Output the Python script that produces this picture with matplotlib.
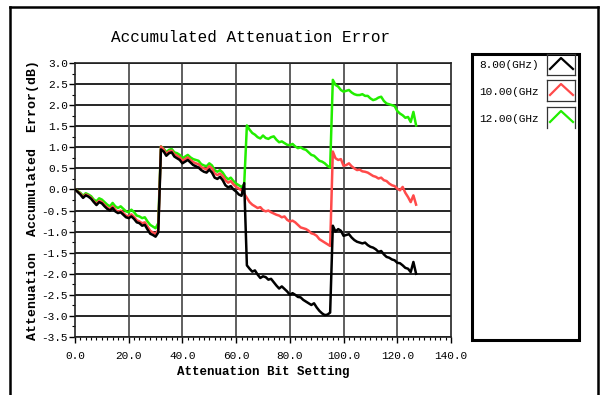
import numpy as np
import matplotlib
matplotlib.use("Agg")
import matplotlib.pyplot as plt
from matplotlib.lines import Line2D
from matplotlib.patches import Rectangle
from matplotlib.ticker import MultipleLocator, FormatStrFormatter

plt.rcParams['axes.unicode_minus'] = False
plt.rcParams['font.family'] = ['Liberation Mono', 'DejaVu Sans Mono']

# attenuation bit setting 0..127
setting = np.arange(128)

# accumulated error (dB), one value per setting
err_8ghz = [
    0.00, -0.06, -0.12, -0.20, -0.14, -0.17, -0.22, -0.30, -0.37, -0.30, -0.33, -0.40, -0.46, -0.50, -0.44, -0.52,
    -0.56, -0.54, -0.60, -0.66, -0.68, -0.64, -0.70, -0.78, -0.80, -0.86, -0.84, -0.95, -1.05, -1.08, -1.12, -1.02,
    0.95, 0.90, 0.80, 0.86, 0.88, 0.78, 0.74, 0.70, 0.62, 0.66, 0.70, 0.64, 0.58, 0.55, 0.52, 0.46,
    0.42, 0.40, 0.47, 0.40, 0.28, 0.25, 0.30, 0.22, 0.10, 0.05, 0.08, 0.00, -0.05, -0.12, -0.15, 0.15,
    -1.80, -1.88, -1.95, -1.92, -2.02, -2.10, -2.06, -2.08, -2.14, -2.12, -2.20, -2.28, -2.35, -2.30, -2.36, -2.42,
    -2.50, -2.46, -2.50, -2.55, -2.56, -2.62, -2.66, -2.70, -2.74, -2.70, -2.80, -2.88, -2.94, -2.98, -2.97, -2.92,
    -0.86, -1.00, -0.94, -0.98, -1.10, -1.08, -1.06, -1.14, -1.20, -1.24, -1.26, -1.28, -1.26, -1.32, -1.36, -1.38,
    -1.42, -1.48, -1.46, -1.54, -1.60, -1.62, -1.66, -1.68, -1.74, -1.75, -1.80, -1.86, -1.88, -1.96, -1.72, -2.00,
]
err_10ghz = [
    0.00, -0.05, -0.10, -0.18, -0.12, -0.15, -0.20, -0.28, -0.34, -0.27, -0.30, -0.37, -0.43, -0.47, -0.40, -0.48,
    -0.53, -0.50, -0.56, -0.62, -0.64, -0.59, -0.65, -0.73, -0.76, -0.80, -0.78, -0.88, -0.98, -1.02, -1.06, -0.96,
    1.02, 0.95, 0.84, 0.90, 0.92, 0.83, 0.80, 0.76, 0.68, 0.72, 0.76, 0.70, 0.65, 0.62, 0.60, 0.53,
    0.50, 0.47, 0.55, 0.50, 0.38, 0.34, 0.38, 0.32, 0.22, 0.16, 0.20, 0.12, 0.06, 0.02, -0.02, -0.10,
    -0.20, -0.30, -0.36, -0.40, -0.44, -0.42, -0.49, -0.52, -0.50, -0.54, -0.57, -0.60, -0.62, -0.66, -0.64, -0.72,
    -0.76, -0.74, -0.78, -0.84, -0.90, -0.92, -0.94, -0.98, -1.04, -1.06, -1.10, -1.18, -1.22, -1.26, -1.30, -1.34,
    0.90, 0.74, 0.70, 0.72, 0.56, 0.58, 0.62, 0.55, 0.50, 0.46, 0.47, 0.43, 0.42, 0.40, 0.36, 0.32,
    0.30, 0.26, 0.28, 0.22, 0.20, 0.14, 0.10, 0.08, 0.02, -0.02, 0.06, -0.08, -0.18, -0.30, -0.14, -0.36,
]
err_12ghz = [
    0.00, -0.04, -0.08, -0.15, -0.09, -0.12, -0.16, -0.24, -0.28, -0.21, -0.24, -0.30, -0.36, -0.40, -0.32, -0.40,
    -0.44, -0.40, -0.46, -0.52, -0.54, -0.48, -0.54, -0.62, -0.64, -0.68, -0.66, -0.76, -0.84, -0.88, -0.92, -0.80,
    1.02, 0.97, 0.88, 0.94, 0.96, 0.88, 0.86, 0.82, 0.74, 0.78, 0.82, 0.76, 0.72, 0.70, 0.68, 0.60,
    0.57, 0.55, 0.62, 0.57, 0.46, 0.42, 0.46, 0.40, 0.30, 0.24, 0.28, 0.20, 0.14, 0.10, 0.06, 0.12,
    1.52, 1.42, 1.34, 1.30, 1.24, 1.21, 1.28, 1.22, 1.20, 1.24, 1.26, 1.18, 1.12, 1.14, 1.10, 1.06,
    1.05, 1.08, 1.02, 0.98, 1.00, 0.96, 0.94, 0.88, 0.82, 0.80, 0.74, 0.68, 0.66, 0.62, 0.56, 0.52,
    2.60, 2.48, 2.44, 2.36, 2.32, 2.34, 2.36, 2.30, 2.26, 2.24, 2.24, 2.26, 2.22, 2.22, 2.16, 2.12,
    2.14, 2.18, 2.20, 2.10, 2.04, 2.02, 2.00, 1.98, 1.86, 1.80, 1.76, 1.70, 1.72, 1.60, 1.84, 1.52,
]

labels = ["8.00(GHz)", "10.00(GHz", "12.00(GHz"]
colors = ["black", "#ff4a4a", "#22ee00"]

fig = plt.figure(figsize=(6.02, 3.95), dpi=100)
ax = fig.add_axes([75/602, 1-337/395, 376/602, 274/395])

# green first so black ends on top
for y, c in [(err_12ghz, colors[2]), (err_10ghz, colors[1]), (err_8ghz, colors[0])]:
    ax.plot(setting, y, color=c, lw=1.8, zorder=3)

ax.set_xlim(0, 140)
ax.set_ylim(-3.5, 3.0)
ax.xaxis.set_major_locator(MultipleLocator(20))
ax.xaxis.set_minor_locator(MultipleLocator(2))
ax.yaxis.set_major_locator(MultipleLocator(0.5))
ax.yaxis.set_minor_locator(MultipleLocator(0.25))
ax.xaxis.set_major_formatter(FormatStrFormatter('%.1f'))
ax.yaxis.set_major_formatter(FormatStrFormatter('%.1f'))
ax.tick_params(axis='both', which='major', labelsize=8, length=4, width=1, direction='out')
ax.tick_params(axis='both', which='minor', length=2, width=0.8, direction='out')
ax.tick_params(axis='x', which='major', pad=6)
ax.tick_params(axis='y', which='major', pad=1)

for v in np.arange(-3.5, 3.01, 0.5):
    ax.axhline(v, color='black', lw=1.2, zorder=1)
for v in range(20, 140, 20):
    ax.axvline(v, color='#444444', lw=1.2, zorder=1)
for s in ax.spines.values():
    s.set_linewidth(1.2)
    s.set_color('#222222')

fig.text(251/602, 1-38/395, "Accumulated Attenuation Error", fontsize=11.5,
         ha='center', va='center')
ax.set_xlabel("Attenuation Bit Setting", fontsize=9, fontweight='bold', labelpad=4)
fig.text(33/602, 1-200/395, "Attenuation  Accumulated  Error(dB)", rotation=90,
         fontsize=9.5, fontweight='bold', ha='center', va='center')

# outer frame
fig.add_artist(Line2D([10/602, 10/602], [0, 1-7/395], color='black', lw=1.8))
fig.add_artist(Line2D([10/602, 598/602], [1-7/395, 1-7/395], color='black', lw=1.8))
fig.add_artist(Line2D([598/602, 598/602], [1-7/395, 0], color='black', lw=1.8))

# legend box
fig.add_artist(Rectangle((472/602, 1-340/395), 107/602, 286/395, fill=False,
                         edgecolor='black', lw=2.2))
sw_tops = [54, 80, 107]
text_y = [65, 92, 119]
for i in range(3):
    fig.text(479/602, 1-text_y[i]/395, labels[i], fontsize=8, va='center', ha='left')
    top = sw_tops[i]
    bot = top + 21
    x0, x1 = 547, 575
    edges = [([x0, x1], [top, top]), ([x0, x0], [top, bot]), ([x1, x1], [top, bot])]
    if i < 2:
        edges.append(([x0, x1], [bot, bot]))
    for ex, ey in edges:
        fig.add_artist(Line2D([e/602 for e in ex], [1-e/395 for e in ey], color='#333333', lw=0.9))
    fig.add_artist(Line2D([550/602, 561/602, 573/602],
                          [1-(top+15)/395, 1-(top+4)/395, 1-(top+15)/395],
                          color=colors[i], lw=1.6))

fig.savefig("out.png", dpi=100)
